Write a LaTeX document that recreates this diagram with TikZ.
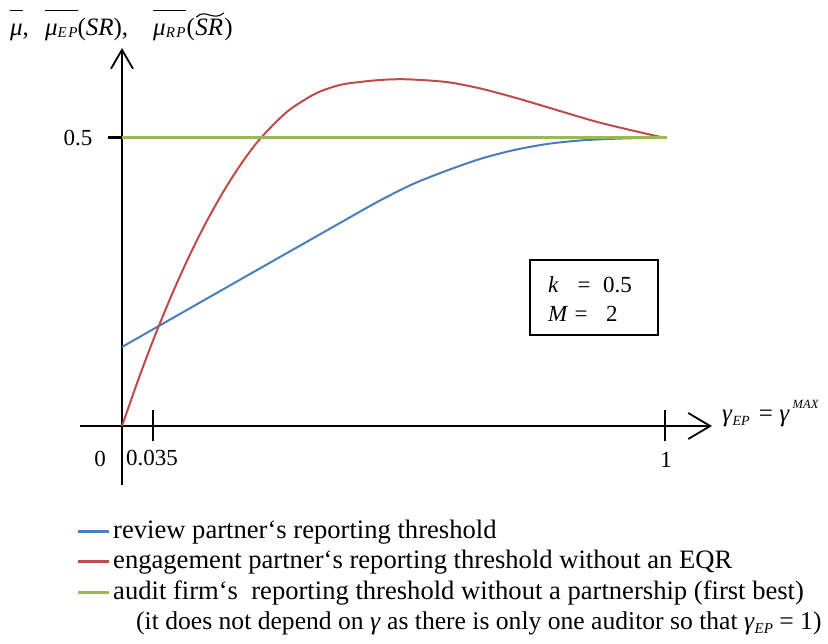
\documentclass[tikz,border=0pt]{standalone}
\usepackage{fontspec}
\setmainfont{Liberation Serif}
\usetikzlibrary{arrows.meta,calc}

\definecolor{revblue}{RGB}{74,126,187}
\definecolor{engred}{RGB}{190,75,72}
\definecolor{firmgreen}{RGB}{152,185,84}

\newcommand\lblfont{\fontsize{23}{27}\selectfont}
\newcommand\titlefont{\fontsize{25}{30}\selectfont}
\newcommand\legfont{\fontsize{26.6}{30}\selectfont}
\newcommand\subfont{\fontsize{15}{15}\selectfont\itshape}

% bar set above a piece of text
\newsavebox\accbox
\newcommand\barover[1]{\sbox\accbox{#1}\rlap{\rule[25pt]{\wd\accbox}{1.1pt}}\usebox\accbox}

\begin{document}
\begin{tikzpicture}[x=1pt,y=-1pt,
  axisline/.style={line width=1.8pt, black},
  tickline/.style={line width=1.8pt, black},
  curve/.style={line width=2pt},
  legline/.style={line width=3pt},
  lbl/.style={font=\lblfont, inner sep=0pt},
  ttl/.style={font=\titlefont, inner sep=0pt, anchor=base west},
  legtext/.style={font=\legfont, inner sep=0pt, anchor=base west}]
\useasboundingbox (0,0) rectangle (828,644);

% axes
\coordinate (yb) at (122,485);
\coordinate (yt) at (122,48);
\coordinate (xl) at (80,426);
\coordinate (xr) at (712,426);
\draw[axisline, -{Straight Barb[length=19pt,width=22pt,line width=1.8pt]}] (yb) -- (yt);
\draw[axisline, -{Straight Barb[length=22pt,width=26pt,line width=1.8pt]}] (xl) -- (xr);

% ticks
\coordinate (t1a) at (153,410); \coordinate (t1b) at (153,441);
\coordinate (t2a) at (665,410); \coordinate (t2b) at (665,441);
\coordinate (t3a) at (108,138); \coordinate (t3b) at (122,138);
\draw[tickline] (t1a) -- (t1b);
\draw[tickline] (t2a) -- (t2b);
\draw[line width=3pt] (t3a) -- (t3b);

% tick labels
\node[lbl] (zero) at (100,459) {0};
\node[lbl, anchor=west] (small) at (126,458) {0.035};
\node[lbl] (one) at (666,460) {1};
\node[lbl] (half) at (78,138) {0.5};

% vertical axis title
\node[ttl] (ylabA) at (10,36) {\barover{\textit{μ}},};
\node[ttl] (ylabB) at (45,36)
  {\barover{\textit{μ}\raisebox{-2pt}{\subfont E\kern1.5pt P}}(\textit{SR}),};
\node[ttl] (ylabC) at (153,36)
  {\barover{\textit{μ}\raisebox{-2pt}{\subfont R\kern1.5pt P}}\kern1pt(};
\node[ttl] (ylabSR) at (ylabC.base east) {\textit{SR}};
\node[ttl] (ylabD) at (ylabSR.base east) {\kern1pt)};
% tilde over the second SR
\draw[line width=1.1pt, line cap=round]
  ($(ylabSR.base west)+(1.5,-19)$)
  .. controls ($(ylabSR.base west)+(10,-28)$) and ($(ylabSR.base east)+(-10,-14)$)
  .. ($(ylabSR.base east)+(0.5,-23)$);
% horizontal axis title
\node[font=\fontsize{25}{28}\selectfont, inner sep=0pt, anchor=base west] (xlab) at (722,421)
  {\textit{γ}\raisebox{-4pt}{\fontsize{14}{14}\selectfont\itshape EP}\hspace{3pt} = \textit{γ}\kern3pt\raisebox{13pt}{\fontsize{12.5}{12.5}\selectfont\itshape MAX}};

% review partner
\draw[curve, revblue] plot[smooth] coordinates {
  (122,347) (200,302.5) (280,257) (347,219) (380,200.5) (413,184)
  (447,170.5) (480,159) (513,150.3) (547,144) (580,140.5) (613,138.8)
  (640,138.1) (665,138)};
% engagement partner
\draw[curve, engred] plot[smooth] coordinates {
  (122,426) (139,377.7) (156,333) (173,291.9) (190,254.5) (207,220.7)
  (225,188.9) (243,161.2) (261,137.8) (287,111.8) (313,94.9) (330,87.9)
  (347,83.6) (380,80) (407,79.3) (447,82.1) (480,88.4) (513,97.1)
  (547,107.1) (600,122.7) (665,138)};
% audit firm
\coordinate (ga) at (122,138);
\coordinate (gb) at (667,138);
\draw[legline, firmgreen] (ga) -- (gb);

% parameter box
\node[draw, line width=1.8pt, minimum width=128pt, minimum height=75pt, inner sep=0pt] (params) at (594,297.5) {};
\node[lbl, anchor=base west] (kname) at (548,293) {\textit{k}};
\node[lbl, anchor=base] (keq) at (584,293) {=};
\node[lbl, anchor=base west] (kval) at (603,293) {0.5};
\node[lbl, anchor=base west] (mname) at (548,322) {\textit{M}};
\node[lbl, anchor=base] (meq) at (581,322) {=};
\node[lbl, anchor=base west] (mval) at (606,322) {2};

% legend
\coordinate (l1a) at (78,531); \coordinate (l1b) at (109,531);
\coordinate (l2a) at (78,561); \coordinate (l2b) at (109,561);
\coordinate (l3a) at (78,592); \coordinate (l3b) at (109,592);
\draw[legline, revblue] (l1a) -- (l1b);
\draw[legline, engred] (l2a) -- (l2b);
\draw[legline, firmgreen] (l3a) -- (l3b);
\node[legtext] (leg1) at (113,538) {review partner‘s reporting threshold};
\node[legtext] (leg2) at (113,568) {engagement partner‘s reporting threshold without an EQR};
\node[legtext] (leg3) at (113,599) {audit firm‘s \ reporting threshold without a partnership (first best)};
\node[legtext, font=\fontsize{25.6}{30}\selectfont] (leg4) at (136,629) {(it does not depend on \textit{γ} as there is only one auditor so that \textit{γ}\raisebox{-4pt}{\fontsize{15}{15}\selectfont\itshape EP} = 1)};
\end{tikzpicture}
\end{document}
